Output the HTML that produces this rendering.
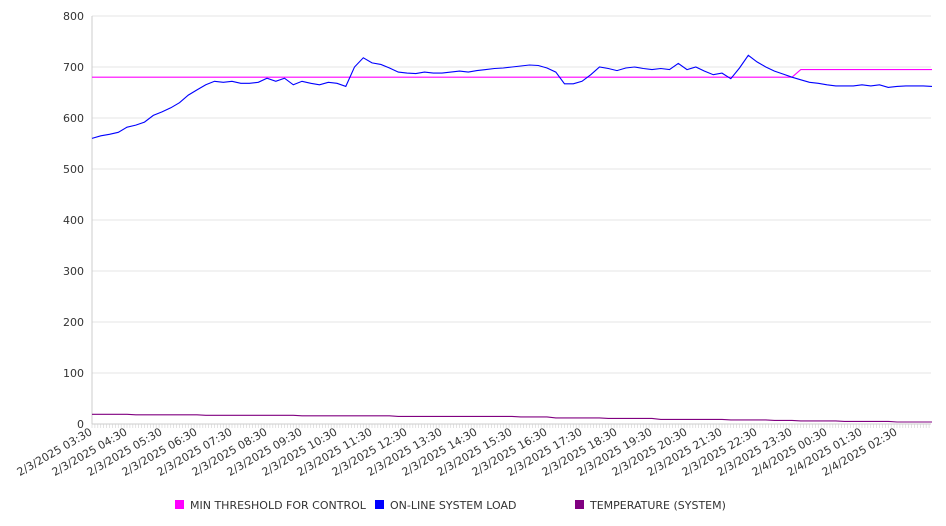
<!DOCTYPE html>
<html><head><meta charset="utf-8"><style>
body{margin:0;background:#fff;}
svg{display:block;font-family:"DejaVu Sans","Liberation Sans",sans-serif;}
</style></head><body>
<svg id="chart" width="946" height="526" viewBox="0 0 946 526">
<g id="grid"></g>
<g id="yaxis"></g>
<g id="xaxis"></g>
<g id="series"></g>
<g font-size="11" fill="#333">
<g><rect x="175" y="500" width="9" height="9" fill="#ff00ff"/><text x="190" y="509">MIN THRESHOLD FOR CONTROL</text></g>
<g><rect x="375" y="500" width="9" height="9" fill="#0000ff"/><text x="390" y="509">ON-LINE SYSTEM LOAD</text></g>
<g><rect x="575" y="500" width="9" height="9" fill="#800080"/><text x="590" y="509">TEMPERATURE (SYSTEM)</text></g>
</g>
</svg>
<script>
const yTicks=[0,100,200,300,400,500,600,700,800];
const xLabels=["2/3/2025 03:30","2/3/2025 04:30","2/3/2025 05:30","2/3/2025 06:30","2/3/2025 07:30","2/3/2025 08:30","2/3/2025 09:30","2/3/2025 10:30","2/3/2025 11:30","2/3/2025 12:30","2/3/2025 13:30","2/3/2025 14:30","2/3/2025 15:30","2/3/2025 16:30","2/3/2025 17:30","2/3/2025 18:30","2/3/2025 19:30","2/3/2025 20:30","2/3/2025 21:30","2/3/2025 22:30","2/3/2025 23:30","2/4/2025 00:30","2/4/2025 01:30","2/4/2025 02:30"];
const loadValues=[560,565,568,572,582,586,592,605,612,620,630,645,655,665,672,670,672,668,668,670,678,672,678,665,672,668,665,670,668,662,700,718,708,705,698,690,688,687,690,688,688,690,692,690,693,695,697,698,700,702,704,703,698,690,667,667,672,685,700,697,693,698,700,697,695,697,695,707,695,700,692,685,688,677,698,723,710,700,692,686,680,675,670,668,665,663,663,663,665,663,665,660,662,663,663,663,662];
const thresholdValues=[680,680,680,680,680,680,680,680,680,680,680,680,680,680,680,680,680,680,680,680,680,680,680,680,680,680,680,680,680,680,680,680,680,680,680,680,680,680,680,680,680,680,680,680,680,680,680,680,680,680,680,680,680,680,680,680,680,680,680,680,680,680,680,680,680,680,680,680,680,680,680,680,680,680,680,680,680,680,680,680,680,695,695,695,695,695,695,695,695,695,695,695,695,695,695,695,695];
const tempValues=[19,19,19,19,19,18,18,18,18,18,18,18,18,17,17,17,17,17,17,17,17,17,17,17,16,16,16,16,16,16,16,16,16,16,16,15,15,15,15,15,15,15,15,15,15,15,15,15,15,14,14,14,14,12,12,12,12,12,12,11,11,11,11,11,11,9,9,9,9,9,9,9,9,8,8,8,8,8,7,7,7,6,6,6,6,6,5,5,5,5,5,5,4,4,4,4,4];
const STEP_MIN=15;
const X0=92,X1=931,Y0=424,Y1=16;
const xScale=t=>X0+t*35/60;
const yScale=v=>Y0-(v/800)*(Y0-Y1);
const NS="http://www.w3.org/2000/svg";
function mk(tag,attrs,parent){const e=document.createElementNS(NS,tag);for(const k in attrs)e.setAttribute(k,attrs[k]);parent.appendChild(e);return e;}
const grid=document.getElementById('grid'),ya=document.getElementById('yaxis'),xa=document.getElementById('xaxis'),ser=document.getElementById('series');
yTicks.forEach(v=>{
 const l=mk('line',{x1:X0,x2:X1,y1:yScale(v),y2:yScale(v),stroke:'#e6e6e6','stroke-width':1},grid);
 
 
 const t=mk('text',{x:84,y:yScale(v)+4,'text-anchor':'end','font-size':11,fill:'#333'},ya);
 t.textContent=v;
 
 
});
mk('line',{x1:X0,x2:X0,y1:Y1,y2:Y0,stroke:'#ccc'},ya);
mk('line',{x1:X0,x2:X1,y1:Y0,y2:Y0,stroke:'#ccc'},xa);
for(let t=0;t<=1440;t+=5){const x=xScale(t);if(x>X1)break;mk('line',{x1:x,x2:x,y1:Y0,y2:Y0+4,stroke:'#d0d0d0','stroke-width':0.6},xa);}
xLabels.forEach((s,i)=>{
 const x=xScale(i*60)+1;
 const t=mk('text',{x:x,y:Y0+10,'text-anchor':'end','font-size':11,fill:'#333',transform:`rotate(-30 ${x} ${Y0+10})`},xa);
 t.textContent=s;
 
 
});
function line(vals,color,name){
 const d=vals.map((v,i)=>(i?'L':'M')+xScale(i*STEP_MIN).toFixed(1)+','+yScale(v).toFixed(1)).join('');
 const p=mk('path',{d:d,fill:'none',stroke:color,'stroke-width':1.1},ser);
 
 
}
line(tempValues,'#800080','temperature-line');
line(thresholdValues,'#ff00ff','threshold-line');
line(loadValues,'#0000ff','load-line');
</script>
</body></html>
